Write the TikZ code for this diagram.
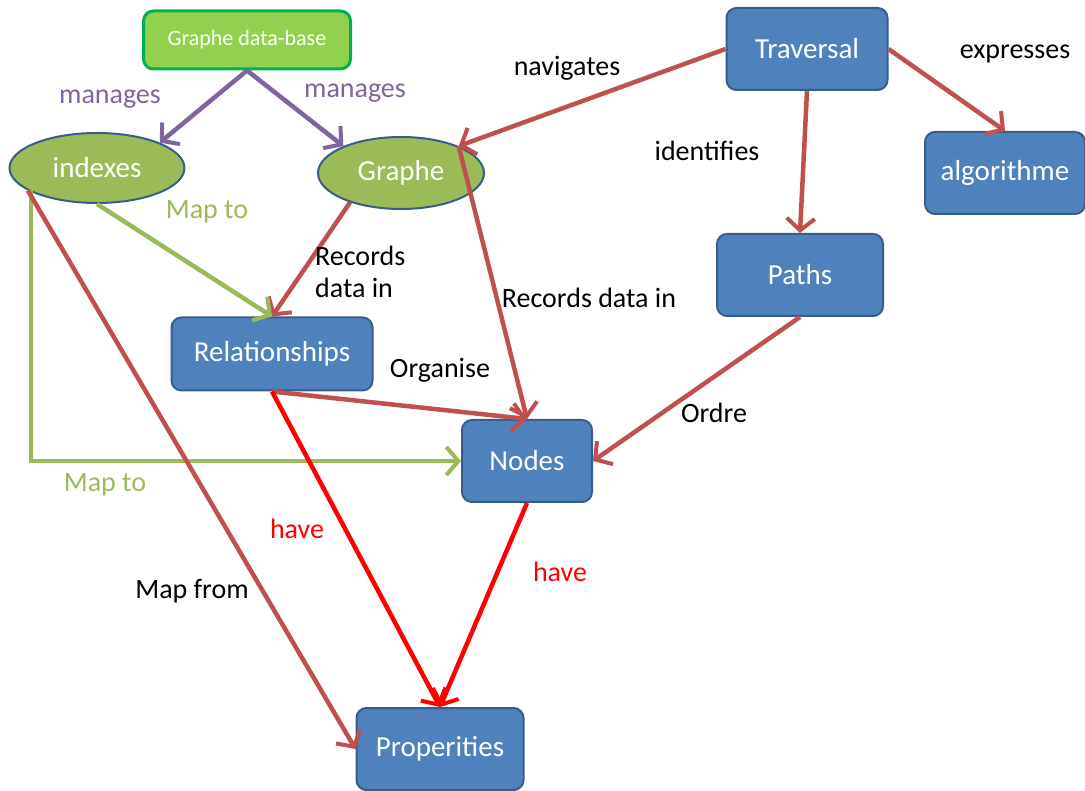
\documentclass[tikz,border=0pt]{standalone}
\usepackage{fontspec}
\setmainfont{Carlito}
\usetikzlibrary{shapes.geometric,arrows.meta}
\definecolor{boxblue}{HTML}{4F81BD}
\definecolor{boxedge}{HTML}{385D8A}
\definecolor{olive}{HTML}{9BBB59}
\definecolor{lightgreen}{HTML}{92D050}
\definecolor{darkgreen}{HTML}{00B050}
\definecolor{purp}{HTML}{8064A2}
\definecolor{dred}{HTML}{C0504D}
\definecolor{bred}{HTML}{FF0000}
\tikzset{
  bluebox/.style={draw=boxedge, line width=2pt, fill=boxblue, rounded corners=10pt, text=white, font=\fontsize{29}{33}\selectfont, minimum height=82pt, inner sep=0pt},
  oval/.style={ellipse, draw=boxedge, line width=2pt, fill=olive, text=white, font=\fontsize{29}{33}\selectfont, inner sep=0pt},
  conn/.style={line width=4.5pt, -{Straight Barb[length=12pt,width=28pt,line width=4pt]}},
  lbl/.style={font=\fontsize{28}{32}\selectfont, inner sep=0pt}
}
\begin{document}
\begin{tikzpicture}[x=1pt,y=-1pt]
\useasboundingbox (0,0) rectangle (1085,791);
\fill[white] (0,0) rectangle (1085,791);
% nodes
\node[draw=darkgreen, line width=3pt, fill=lightgreen, rounded corners=10pt, text=white, font=\fontsize{22}{26}\selectfont, minimum width=207pt, minimum height=58pt, inner sep=0pt] (gdb) at (247,40) {Graphe data-base};
\node[oval, minimum width=175pt, minimum height=70pt] (idx) at (97,168) {indexes};
\node[oval, minimum width=166pt, minimum height=72pt] (gra) at (401,173) {Graphe};
\node[bluebox, minimum width=161pt] (trav) at (807,49) {Traversal};
\node[bluebox, minimum width=160pt] (algo) at (1005,173) {algorithme};
\node[bluebox, minimum width=166pt] (paths) at (800,275) {Paths};
\node[bluebox, minimum width=201pt, minimum height=73pt] (rel) at (272,354) {Relationships};
\node[bluebox, minimum width=130pt] (nodes) at (527,461) {Nodes};
\node[bluebox, minimum width=167pt] (prop) at (440,749) {Properities};
% connectors
\draw[conn, purp] (gdb.south) -- (idx.22);
\draw[conn, purp] (gdb.south) -- (gra.155);
\draw[conn, dred] (trav.west) -- (gra.25);
\draw[conn, dred] (trav.south) -- (paths.north);
\draw[conn, dred] (trav.east) -- (algo.north);
\draw[conn, dred] (gra.210) -- (rel.north);
\draw[conn, dred] (gra.25) -- (nodes.north);
\draw[conn, olive] (idx.south) -- (rel.north);
\draw[conn, olive, line cap=rect] (idx.200) |- (nodes.west);
\draw[conn, dred] (idx.198) -- (prop.west);
\draw[conn, dred] (rel.south) -- (nodes.north);
\draw[conn, bred] (rel.south) -- (prop.north);
\draw[conn, bred] (nodes.south) -- (prop.north);
\draw[conn, dred] (paths.south) -- (nodes.east);
% labels
\node[lbl, text=purp] (l1) at (110,99) {manages};
\node[lbl, text=purp] (l2) at (355,93) {manages};
\node[lbl] (l3) at (567,68) {navigates};
\node[lbl] (l4) at (707,151) {identifies};
\node[lbl] (l5) at (1015,54) {expresses};
\node[lbl, text=olive] (l6) at (207,212) {Map to};
\node[lbl, align=left, anchor=west] (l7) at (315,272) {Records\\data in};
\node[lbl] (l8) at (589,298) {Records data in};
\node[lbl] (l9) at (440,370) {Organise};
\node[lbl] (l10) at (714,413) {Ordre};
\node[lbl, text=olive] (l11) at (105,485) {Map to};
\node[lbl, text=bred] (l12) at (297,529) {have};
\node[lbl, text=bred] (l13) at (560,572) {have};
\node[lbl] (l14) at (192,591) {Map from};
\end{tikzpicture}
\end{document}
